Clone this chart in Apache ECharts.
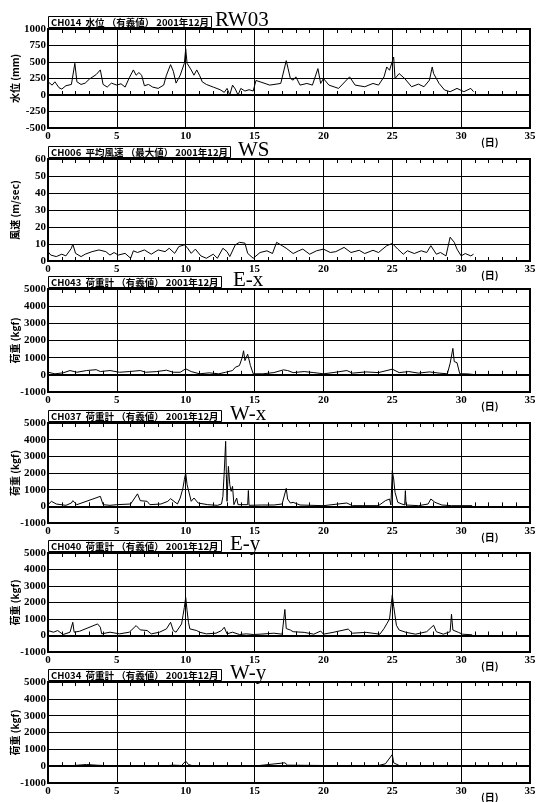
<!DOCTYPE html>
<html><head><meta charset="utf-8">
<script src="https://cdn.jsdelivr.net/npm/echarts@6/dist/echarts.min.js"></script>
<style>html,body{margin:0;padding:0;background:#fff}#c{width:537px;height:802px}</style>
</head><body><div id="c"></div>
<script>
// ---- Data: [day, value] ----
const rw03 = [[0,200],[0.3,150],[0.5,200],[0.8,110],[1.0,90],[1.3,140],[1.7,160],[1.95,480],[2.1,200],[2.4,160],[2.7,180],[3.0,240],[3.5,310],[3.8,380],[4.0,160],[4.3,120],[4.6,180],[5.0,150],[5.3,170],[5.6,120],[5.9,260],[6.2,380],[6.4,300],[6.6,340],[6.8,300],[7.0,140],[7.3,160],[7.6,120],[8.0,100],[8.4,150],[8.6,300],[8.9,460],[9.1,360],[9.3,180],[9.6,300],[9.9,480],[10.0,700],[10.1,480],[10.4,380],[10.6,300],[10.8,380],[11.0,300],[11.2,200],[11.5,160],[12.0,120],[12.5,80],[12.8,40],[13.0,100],[13.2,0],[13.4,150],[13.6,90],[13.8,0],[14.0,100],[14.3,60],[14.6,80],[14.9,60],[15.1,220],[15.4,200],[16.1,150],[16.9,175],[17.3,520],[17.6,250],[17.8,225],[18.0,275],[18.3,150],[18.8,175],[19.2,150],[19.6,400],[19.8,175],[20.0,250],[20.4,150],[21.1,100],[21.9,275],[22.3,150],[23.0,125],[23.6,175],[24.0,150],[24.4,275],[24.6,425],[24.8,375],[25.1,575],[25.2,250],[25.5,325],[25.9,250],[26.4,125],[26.9,165],[27.3,125],[27.7,225],[27.9,425],[28.0,325],[28.4,175],[28.8,75],[29.2,50],[29.7,100],[30.2,50],[30.7,100],[30.9,50]];
const ws = [[0,5.5],[0.2,3.5],[0.6,2.6],[1.0,4],[1.3,3],[1.7,7.5],[1.8,10],[2.0,4.5],[2.4,2.6],[2.7,4],[3.2,5.5],[3.7,6.5],[4.2,5.5],[4.5,3.5],[4.8,5],[5.1,3.5],[5.6,4.5],[6.0,1.6],[6.2,6],[6.5,5],[7.0,6.5],[7.5,4],[8.0,6.5],[8.5,5.5],[8.8,7.5],[9.2,4.5],[9.5,8.5],[9.9,9.5],[10.1,8],[10.4,4.5],[10.7,7],[11.1,3],[11.5,1.6],[12.0,4],[12.3,1.6],[12.7,7.5],[13.0,5.5],[13.2,2.6],[13.6,9.5],[13.9,11],[14.3,10.5],[14.5,4.5],[14.9,1.6],[15.4,5],[15.9,6],[16.3,4.4],[16.6,11],[17.0,9],[17.3,7.5],[17.8,4.4],[18.2,6],[18.5,7],[19.0,4],[19.5,6],[20.0,7],[20.5,5],[20.9,5.5],[21.5,8],[22.0,5],[22.6,6.3],[23.0,4.4],[23.6,6.3],[24.0,5],[24.6,9],[25.0,10.3],[25.4,7],[25.8,4],[26.1,6],[26.6,4.4],[27.1,6],[27.5,5],[27.8,9],[28.2,4],[28.5,5],[28.9,3],[29.2,14],[29.5,11],[29.7,7],[30.0,3],[30.3,4.4],[30.7,3],[30.9,4]];
const ex = [[0,150],[0.5,60],[1.1,115],[1.6,250],[2.1,150],[2.8,250],[3.5,300],[3.8,190],[4.5,250],[5.2,150],[5.9,190],[6.7,250],[7.1,150],[7.9,190],[8.6,270],[9.1,150],[9.6,150],[10.0,350],[10.4,190],[11.0,60],[11.7,115],[12.4,60],[12.9,150],[13.4,250],[13.6,440],[13.9,540],[14.1,1000],[14.2,1400],[14.3,830],[14.5,1200],[14.7,540],[14.9,60],[15.6,60],[16.4,130],[17.1,290],[17.4,250],[17.8,130],[18.6,190],[19.3,130],[20.0,60],[20.7,130],[21.7,250],[22.1,100],[23.1,170],[24.0,130],[25.0,330],[25.5,130],[26.2,190],[26.9,100],[27.7,170],[28.4,100],[29.0,60],[29.2,670],[29.4,1540],[29.5,770],[29.7,710],[29.9,60],[30.4,60],[30.9,20]];
const wx = [[0,100],[0.25,300],[0.6,140],[1.3,60],[1.7,200],[1.8,340],[2.1,100],[3.8,600],[4.0,100],[4.5,60],[5.0,100],[6.0,140],[6.5,750],[6.7,340],[7.2,300],[7.4,100],[8.2,140],[8.7,300],[8.9,460],[9.4,140],[9.6,500],[9.8,1100],[9.9,1600],[10.0,2000],[10.1,1300],[10.2,1350],[10.4,300],[10.6,500],[10.9,200],[11.6,100],[12.3,60],[12.6,140],[12.7,600],[12.8,2100],[12.9,3900],[12.95,1900],[13.0,300],[13.1,2400],[13.2,1300],[13.3,900],[13.4,1200],[13.5,100],[13.7,500],[13.8,100],[14.5,100],[14.55,950],[14.6,60],[15.5,80],[16.4,80],[17.0,140],[17.3,1080],[17.4,440],[17.6,200],[17.8,240],[18.3,80],[20.0,40],[21.7,200],[22.1,40],[24.0,40],[24.5,340],[24.8,440],[24.9,80],[25.0,2140],[25.1,1640],[25.2,840],[25.4,240],[25.7,140],[25.9,80],[25.95,940],[26.0,80],[26.9,40],[27.6,140],[27.8,440],[28.1,240],[28.6,80],[29.3,40],[30.8,40]];
const ey = [[0,300],[0.4,200],[0.7,300],[1.1,60],[1.6,200],[1.8,800],[1.9,200],[2.3,260],[3.6,700],[3.8,500],[3.9,100],[4.5,200],[5.2,100],[5.9,200],[6.4,600],[6.7,340],[7.2,300],[7.5,100],[8.1,200],[8.6,400],[8.9,800],[9.1,300],[9.3,200],[9.7,700],[9.8,1200],[9.9,1700],[10.0,2300],[10.1,1500],[10.2,800],[10.3,400],[10.8,300],[11.0,200],[11.5,100],[12.2,140],[12.6,300],[12.8,500],[13.0,100],[13.4,200],[13.9,60],[14.4,100],[14.9,60],[15.4,80],[16.4,140],[17.0,80],[17.2,1580],[17.3,420],[17.6,330],[17.8,230],[18.6,190],[19.3,80],[19.8,270],[20.0,80],[20.7,190],[21.8,390],[22.1,140],[23.1,190],[24.1,80],[24.4,420],[24.6,710],[24.8,1000],[25.0,2450],[25.1,1780],[25.3,620],[25.5,330],[26.0,190],[26.7,80],[27.5,230],[28.0,620],[28.2,230],[28.7,80],[29.2,230],[29.3,1290],[29.4,330],[29.8,190],[30.1,80],[30.8,40]];
const wy = [[0,40],[1.3,0],[2.8,100],[3.5,60],[5.0,0],[6.7,40],[8.1,0],[9.1,60],[9.7,40],[10.0,300],[10.2,100],[10.6,0],[12.3,0],[14.9,0],[17.2,200],[17.4,60],[20.0,40],[24.0,40],[24.5,140],[25.0,690],[25.1,200],[25.5,40],[30.8,40]];

const boxTitles = ['CH014  水位 （有義値） 2001年12月','CH006  平均風速 （最大値） 2001年12月','CH043  荷重計 （有義値） 2001年12月','CH037  荷重計 （有義値） 2001年12月','CH040  荷重計 （有義値） 2001年12月','CH034  荷重計 （有義値） 2001年12月'];
const bigTitles = ['RW03','WS','E-x','W-x','E-y','W-y'];
const yNames = ['水位 (mm)','風速 (m/sec)','荷重 (kgf)','荷重 (kgf)','荷重 (kgf)','荷重 (kgf)'];
const yMin = [-500,0,-1000,-1000,-1000,-1000];
const yMax = [1000,60,5000,5000,5000,5000];
const yStep = [250,10,1000,1000,1000,1000];
const xUnit = '(日)';

// ---- layout ----
const tops = [29,159,289,423,553,682];
const heights = [99,102,103,100,99,101];
const bigLeft = [215,238,233,230,230,230];
const series_data = [rw03, ws, ex, wx, ey, wy];

const serif = 'Liberation Serif';
const grids=[], xAxes=[], yAxes=[], series=[], titles=[], graphics=[];
for (let i=0;i<6;i++){
  grids.push({left:48, width:482, top:tops[i], height:heights[i], containLabel:false, outerBoundsMode:'none',
    show:true, borderColor:'#000', borderWidth:2, backgroundColor:'transparent'});
  xAxes.push({gridIndex:i, type:'value', min:0, max:35, interval:5, position:'bottom',
    axisLine:{show:true, lineStyle:{color:'#000', width:2}},
    axisTick:{show:true, inside:true, length:5, lineStyle:{color:'#000'}},
    minorTick:{show:true, splitNumber:5, length:4, lineStyle:{color:'#000'}},
    axisLabel:{color:'#000', fontFamily:serif, fontWeight:'bold', fontSize:11, margin:3, formatter:v=>String(v)},
    splitLine:{show:true, lineStyle:{color:'#000', width:1}}});
  xAxes.push({gridIndex:i, type:'value', min:0, max:35, interval:5, position:'top',
    axisLine:{show:true, lineStyle:{color:'#000', width:2}},
    axisTick:{show:true, inside:true, length:5, lineStyle:{color:'#000'}},
    minorTick:{show:true, splitNumber:5, length:4, lineStyle:{color:'#000'}},
    axisLabel:{show:false}, splitLine:{show:false}});
  yAxes.push({gridIndex:i, type:'value', min:yMin[i], max:yMax[i], interval:yStep[i],
    name:yNames[i], nameLocation:'middle', nameGap:28, nameRotate:90, nameMoveOverlap:false,
    nameTextStyle:{color:'#000', fontFamily:'Noto Sans CJK JP', fontWeight:'bold', fontSize:10},
    axisLine:{show:true, lineStyle:{color:'#000', width:2}},
    axisTick:{show:false},
    axisLabel:{color:'#000', fontFamily:serif, fontWeight:'bold', fontSize:11, margin:2, formatter:v=>String(v)},
    splitLine:{show:true, lineStyle:{color:'#000', width:1}}});
  series.push({type:'line', xAxisIndex:2*i, yAxisIndex:i, data:series_data[i], showSymbol:false, symbol:'none',
    lineStyle:{color:'#000', width:1}, animation:false});
  titles.push({text:boxTitles[i], left:48, top:tops[i]-13, padding:[1,3,0,3], borderColor:'#000', borderWidth:1,
    textStyle:{color:'#000', fontFamily:'Noto Sans CJK JP', fontWeight:'bold', fontSize:9.5, lineHeight:11}});
  titles.push({text:bigTitles[i], left:bigLeft[i], top:tops[i]-19, padding:0,
    textStyle:{color:'#000', fontFamily:serif, fontWeight:'normal', fontSize:21, lineHeight:21}});
  graphics.push({type:'text', left:481, top:tops[i]+heights[i]+9, style:{text:xUnit, fill:'#000', font:'bold 10px "Noto Sans CJK JP"'}});
}

const chart = echarts.init(document.getElementById('c'), null, {renderer:'canvas'});
chart.setOption({animation:false, backgroundColor:'#fff', title:titles, grid:grids, xAxis:xAxes, yAxis:yAxes, series:series, graphic:graphics});
</script></body></html>
